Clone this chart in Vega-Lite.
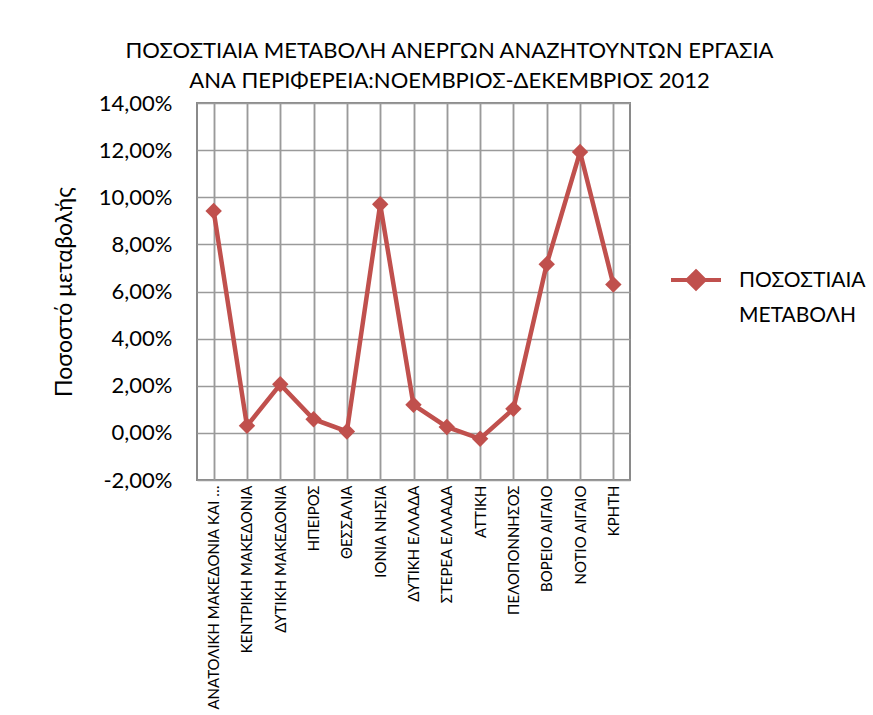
{
  "$schema": "https://vega.github.io/schema/vega-lite/v6.json",
  "autosize": {"type": "none"},
  "width": 433,
  "height": 377,
  "padding": {"left": 197, "top": 103, "right": 243, "bottom": 235},
  "background": "white",
  "title": {
    "text": ["ΠΟΣΟΣΤΙΑΙΑ ΜΕΤΑΒΟΛΗ  ΑΝΕΡΓΩΝ  ΑΝΑΖΗΤΟΥΝΤΩΝ  ΕΡΓΑΣΙΑ", "ΑΝΑ ΠΕΡΙΦΕΡΕΙΑ:ΝΟΕΜΒΡΙΟΣ-ΔΕΚΕΜΒΡΙΟΣ  2012"],
    "anchor": "middle",
    "dx": 36,
    "offset": -1,
    "font": "Lato",
    "fontSize": 22,
    "fontWeight": "normal",
    "lineHeight": 30,
    "color": "black"
  },
  "data": {
    "values": [
      {"region": "ΑΝΑΤΟΛΙΚΗ ΜΑΚΕΔΟΝΙΑ ΚΑΙ ΘΡΑΚΗ", "change": 0.0942, "series": "ΠΟΣΟΣΤΙΑΙΑ ΜΕΤΑΒΟΛΗ"},
      {"region": "ΚΕΝΤΡΙΚΗ ΜΑΚΕΔΟΝΙΑ", "change": 0.0030, "series": "ΠΟΣΟΣΤΙΑΙΑ ΜΕΤΑΒΟΛΗ"},
      {"region": "ΔΥΤΙΚΗ ΜΑΚΕΔΟΝΙΑ", "change": 0.0206, "series": "ΠΟΣΟΣΤΙΑΙΑ ΜΕΤΑΒΟΛΗ"},
      {"region": "ΗΠΕΙΡΟΣ", "change": 0.0058, "series": "ΠΟΣΟΣΤΙΑΙΑ ΜΕΤΑΒΟΛΗ"},
      {"region": "ΘΕΣΣΑΛΙΑ", "change": 0.0006, "series": "ΠΟΣΟΣΤΙΑΙΑ ΜΕΤΑΒΟΛΗ"},
      {"region": "ΙΟΝΙΑ ΝΗΣΙΑ", "change": 0.0970, "series": "ΠΟΣΟΣΤΙΑΙΑ ΜΕΤΑΒΟΛΗ"},
      {"region": "ΔΥΤΙΚΗ ΕΛΛΑΔΑ", "change": 0.0119, "series": "ΠΟΣΟΣΤΙΑΙΑ ΜΕΤΑΒΟΛΗ"},
      {"region": "ΣΤΕΡΕΑ ΕΛΛΑΔΑ", "change": 0.0025, "series": "ΠΟΣΟΣΤΙΑΙΑ ΜΕΤΑΒΟΛΗ"},
      {"region": "ΑΤΤΙΚΗ", "change": -0.0025, "series": "ΠΟΣΟΣΤΙΑΙΑ ΜΕΤΑΒΟΛΗ"},
      {"region": "ΠΕΛΟΠΟΝΝΗΣΟΣ", "change": 0.0102, "series": "ΠΟΣΟΣΤΙΑΙΑ ΜΕΤΑΒΟΛΗ"},
      {"region": "ΒΟΡΕΙΟ ΑΙΓΑΙΟ", "change": 0.0716, "series": "ΠΟΣΟΣΤΙΑΙΑ ΜΕΤΑΒΟΛΗ"},
      {"region": "ΝΟΤΙΟ ΑΙΓΑΙΟ", "change": 0.1192, "series": "ΠΟΣΟΣΤΙΑΙΑ ΜΕΤΑΒΟΛΗ"},
      {"region": "ΚΡΗΤΗ", "change": 0.0630, "series": "ΠΟΣΟΣΤΙΑΙΑ ΜΕΤΑΒΟΛΗ"}
    ]
  },
  "encoding": {
    "y": {
      "field": "change",
      "type": "quantitative",
      "scale": {"domain": [-0.02, 0.14], "nice": false, "zero": false},
      "axis": {
        "values": [-0.02, 0, 0.02, 0.04, 0.06, 0.08, 0.1, 0.12, 0.14],
        "labelExpr": "replace(replace(format(datum.value, '.2%'), '.', ','), '\u2212', '-')",
        "title": "Ποσοστό μεταβολής",
        "titleFont": "Lato",
        "titleFontSize": 23,
        "titleFontWeight": "normal",
        "titleColor": "black",
        "titlePadding": 22,
        "labelFont": "Lato",
        "labelFontSize": 22,
        "labelColor": "black",
        "labelPadding": 25,
        "ticks": false,
        "domain": false,
        "grid": true,
        "gridColor": "#9a9a9a",
        "gridWidth": 1.5
      }
    }
  },
  "layer": [
    {
      "mark": {"type": "line", "strokeWidth": 4.5},
      "encoding": {
        "x": {
          "field": "region",
          "type": "nominal",
          "sort": null,
          "scale": {"paddingInner": 0, "paddingOuter": 0},
          "axis": {
            "orient": "bottom",
            "title": null,
            "labelAngle": -90,
            "labelFont": "Lato",
            "labelFontSize": 15,
            "labelColor": "black",
            "labelPadding": 5,
            "labelLimit": 228,
            "ticks": false,
            "domain": false,
            "grid": true,
            "bandPosition": 0,
            "gridColor": "#9a9a9a",
            "gridWidth": 1.5
          }
        },
        "color": {
          "field": "series",
          "type": "nominal",
          "scale": {"range": ["#C0504D"]},
          "legend": {
            "title": null,
            "orient": "none",
            "legendX": 472,
            "legendY": 150,
            "symbolType": "M-1,0H1M0,-0.34L0.34,0L0,0.34L-0.34,0Z",
            "symbolSize": 2500,
            "symbolStrokeWidth": 4,
            "symbolFillColor": "#C0504D",
            "symbolStrokeColor": "#C0504D",
            "labelExpr": "split(datum.label, ' ')",
            "labelFont": "Lato",
            "labelFontSize": 21,
            "labelColor": "black",
            "labelOffset": 16,
            "labelLimit": 300,
            "labelBaseline": "middle",
            "encode": {"labels": {"update": {"lineHeight": {"value": 35}, "baseline": {"value": "top"}, "dy": {"value": -10}}}}
          }
        }
      }
    },
    {
      "mark": {"type": "point", "shape": "diamond", "size": 270, "filled": true, "opacity": 1},
      "encoding": {
        "x": {
          "field": "region",
          "type": "nominal",
          "sort": null,
          "axis": {
            "orient": "top",
            "title": null,
            "labels": false,
            "ticks": false,
            "domain": false,
            "grid": true,
            "bandPosition": 0.5,
            "gridColor": "#9a9a9a",
            "gridWidth": 1.5
          }
        },
        "color": {"field": "series", "type": "nominal", "legend": null}
      }
    }
  ],
  "resolve": {"axis": {"x": "independent"}},
  "config": {
    "view": {"stroke": "#8a8a8a", "strokeWidth": 2}
  }
}
